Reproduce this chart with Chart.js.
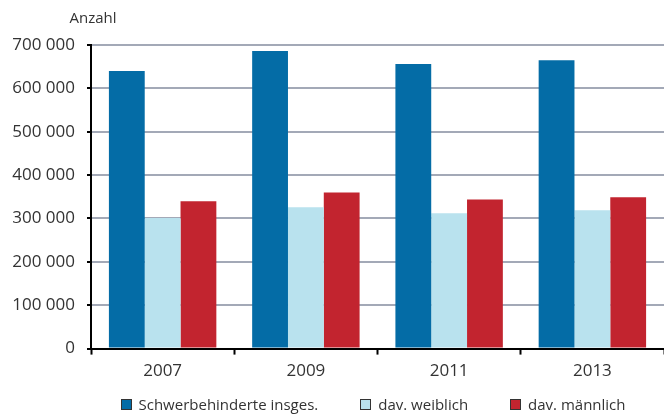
<!DOCTYPE html>
<html lang="de">
<head>
    <meta charset="UTF-8">
    <title>Schwerbehinderte</title>
    <style>
        body { margin: 0; background: #fff; font-family: "Open Sans", "Noto Sans", sans-serif; }
        #wrap { position: relative; width: 664px; height: 414px; }
        #legend { position: absolute; left: 82px; right: 0; top: 395px; display: flex; justify-content: center; gap: 42px; font-size: 15px; color: #333; line-height: 18px; }
        #legend span.item { display: flex; align-items: center; white-space: nowrap; }
        #legend span.box { width: 9px; height: 9px; border: 1px solid #333; margin-right: 7px; }
    </style>
    <script src="https://cdn.jsdelivr.net/npm/chart.js@4/dist/chart.umd.min.js"></script>
</head>
<body>
    <div id="wrap">
        <canvas id="chart"></canvas>
        <div id="legend"></div>
    </div>
    <script>
        const years = ['2007', '2009', '2011', '2013'];
        const insgesamt = [640000, 686000, 656000, 665000];
        const weiblich = [301000, 326000, 312000, 319000];
        const maennlich = [340000, 360000, 344000, 349000];

        const font = '"Open Sans", "Noto Sans", sans-serif';

        // Beschriftung "Anzahl" über der y-Achse
        const unitLabel = {
            id: 'unitLabel',
            afterDraw(chart) {
                const ctx = chart.ctx;
                ctx.save();
                ctx.font = '15px ' + font;
                ctx.fillStyle = '#333';
                ctx.textAlign = 'center';
                ctx.textBaseline = 'middle';
                ctx.fillText('Anzahl', chart.chartArea.left + 2, 19);
                ctx.restore();
            }
        };

        const chart = new Chart(document.getElementById('chart'), {
            type: 'bar',
            data: {
                labels: years,
                datasets: [
                    { label: 'Schwerbehinderte insges.', data: insgesamt, backgroundColor: '#046ca6' },
                    { label: 'dav. weiblich', data: weiblich, backgroundColor: '#b9e2ee' },
                    { label: 'dav. männlich', data: maennlich, backgroundColor: '#c2242f' }
                ]
            },
            options: {
                responsive: true,
                maintainAspectRatio: false,
                animation: false,
                categoryPercentage: 0.75,
                barPercentage: 1,
                layout: { padding: { top: 45, right: 0, left: 0, bottom: 27 } },
                plugins: {
                    tooltip: { enabled: false },
                    legend: { display: false }
                },
                scales: {
                    x: {
                        border: { color: '#000', width: 2 },
                        grid: { drawOnChartArea: false, tickLength: 6, tickColor: '#000', tickWidth: 2 },
                        ticks: { color: '#333', padding: 6, font: { family: font, size: 17 } }
                    },
                    y: {
                        min: 0,
                        max: 700000,
                        border: { color: '#000', width: 2 },
                        afterFit(scale) { scale.width = 91; },
                        grid: {
                            color: c => (c.tick && c.tick.value % 100000 === 0) ? '#a3a9b7' : 'rgba(0,0,0,0)',
                            lineWidth: 2,
                            tickColor: '#000',
                            tickWidth: 2,
                            tickLength: 4
                        },
                        ticks: {
                            stepSize: 50000,
                            color: '#333',
                            padding: 12,
                            font: { family: font, size: 17 },
                            callback: v => v % 100000 === 0 ? String(v).replace(/\B(?=(\d{3})+(?!\d))/g, ' ') : ''
                        }
                    }
                }
            },
            plugins: [unitLabel]
        });

        // Legende aus den Datensätzen
        const legend = document.getElementById('legend');
        chart.data.datasets.forEach(ds => {
            const item = document.createElement('span');
            item.className = 'item';
            item.innerHTML = `<span class="box" style="background:${ds.backgroundColor}"></span>${ds.label}`;
            legend.appendChild(item);
        });
    </script>
</body>
</html>
